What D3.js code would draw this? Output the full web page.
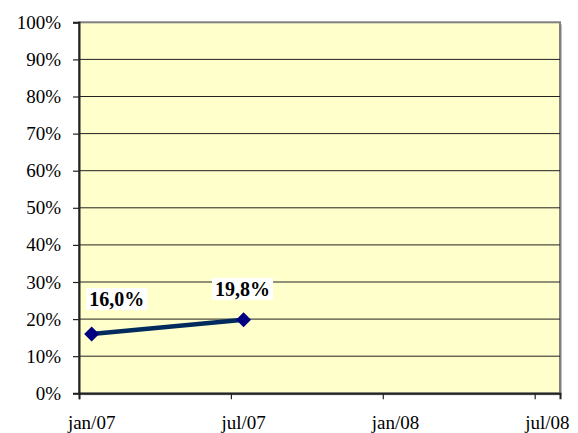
<!DOCTYPE html>
<html>
<head>
<meta charset="utf-8">
<script src="https://cdn.jsdelivr.net/npm/d3@7"></script>
<style>
  html, body { margin: 0; padding: 0; background: #ffffff; }
  svg { display: block; }
</style>
</head>
<body>
<svg id="chart" width="578" height="433"></svg>
<script>
// ---- data ----
const months = ["jan/07", "jul/07"];           // categories
const monthIndex = [0, 6];                       // month offset from jan/07
const values = [16.0, 19.8];                     // percent
const valueLabels = ["16,0%", "19,8%"];
const xTickLabels = ["jan/07", "jul/07", "jan/08", "jul/08"];
const xTickMonths = [0, 6, 12, 18];
const yTicks = [0, 10, 20, 30, 40, 50, 60, 70, 80, 90, 100];
const monthsOnAxis = 19;

// ---- layout ----
const svg = d3.select("#chart");
const pLeft = 79, pRight = 560, pTop = 22.3, pBottom = 393.3;

const x = d3.scaleLinear().domain([0, monthsOnAxis]).range([pLeft, pRight]);
const y = d3.scaleLinear().domain([0, 100]).range([pBottom, pTop]);

// plot area shadow + background
svg.append("rect")
  .attr("x", pLeft + 2).attr("y", pTop + 2)
  .attr("width", pRight - pLeft).attr("height", pBottom - pTop)
  .attr("fill", "#c0c0c0");
svg.append("rect")
  .attr("x", pLeft).attr("y", pTop)
  .attr("width", pRight - pLeft).attr("height", pBottom - pTop)
  .attr("fill", "#ffffcc")
  .attr("stroke", "#808080").attr("stroke-width", 2);

// gridlines
svg.append("g").selectAll("line")
  .data(yTicks.filter(d => d > 0 && d < 100))
  .join("line")
  .attr("x1", pLeft).attr("x2", pRight)
  .attr("y1", d => y(d)).attr("y2", d => y(d))
  .attr("stroke", "#222").attr("stroke-width", 1);

// y axis
const yAxis = d3.axisLeft(y).tickValues(yTicks).tickSize(6).tickPadding(12)
  .tickFormat(d => d + "%");
const gy = svg.append("g").attr("transform", `translate(${pLeft},0)`).call(yAxis);
gy.select(".domain").attr("stroke", "#222").attr("stroke-width", 2);
gy.selectAll(".tick line").attr("stroke", "#222").attr("stroke-width", 1.2);
gy.selectAll(".tick text")
  .attr("font-family", "Liberation Serif, Times New Roman, serif")
  .attr("font-size", 19).attr("fill", "#000")
  .attr("dy", "0.32em");

// x axis
const xAxis = d3.axisBottom(x).tickValues(xTickMonths).tickSize(6).tickFormat("");
const gx = svg.append("g").attr("transform", `translate(0,${pBottom})`).call(xAxis);
gx.select(".domain").attr("stroke", "#222").attr("stroke-width", 2);
gx.selectAll(".tick line").attr("stroke", "#222").attr("stroke-width", 1.2);
svg.append("g").selectAll("text")
  .data(xTickLabels)
  .join("text")
  .attr("x", (d, i) => x(xTickMonths[i] + 0.5))
  .attr("y", 429)
  .attr("text-anchor", "middle")
  .attr("font-family", "Liberation Serif, Times New Roman, serif")
  .attr("font-size", 19).attr("fill", "#000")
  .text(d => d);

// series
const pts = values.map((v, i) => ({ m: monthIndex[i] + 0.5, v, label: valueLabels[i], cat: months[i] }));
const line = d3.line().x(d => x(d.m)).y(d => y(d.v));
svg.append("path")
  .datum(pts)
  .attr("d", line)
  .attr("fill", "none")
  .attr("stroke", "#002b5c")
  .attr("stroke-width", 4.5);

const r = 7.5;
svg.append("g").selectAll("path")
  .data(pts)
  .join("path")
  .attr("d", d => {
    const cx = x(d.m), cy = y(d.v);
    return `M${cx},${cy - r}L${cx + r},${cy}L${cx},${cy + r}L${cx - r},${cy}Z`;
  })
  .attr("fill", "#000080");

// data labels
const labelOffsets = [{ dx: 25, dy: -28 }, { dx: -1, dy: -24 }];
const lg = svg.append("g");
pts.forEach((d, i) => {
  const cx = x(d.m) + labelOffsets[i].dx, by = y(d.v) + labelOffsets[i].dy;
  const t = lg.append("text")
    .attr("x", cx).attr("y", by)
    .attr("text-anchor", "middle")
    .attr("font-family", "Liberation Serif, Times New Roman, serif")
    .attr("font-weight", "bold")
    .attr("font-size", 20).attr("fill", "#000")
    .text(d.label);
  const bb = t.node().getBBox();
  lg.insert("rect", "text")
    .attr("x", bb.x - 3).attr("y", bb.y)
    .attr("width", bb.width + 6).attr("height", bb.height)
    .attr("fill", "#ffffff");
});
</script>
</body>
</html>
